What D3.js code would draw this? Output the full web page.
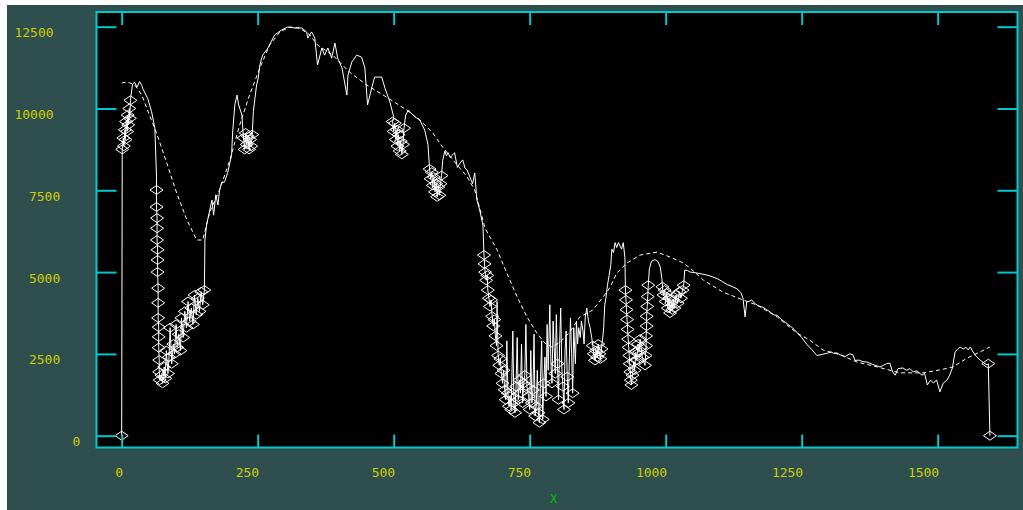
<!DOCTYPE html>
<html><head><meta charset="utf-8">
<script src="https://cdn.jsdelivr.net/npm/d3@7"></script>
<style>html,body{margin:0;padding:0;background:#fff;}svg{display:block;}</style>
</head><body>
<svg id="chart" width="1023" height="510"></svg>
<script>
// ---- data ----
const xTicks = [0, 250, 500, 750, 1000, 1250, 1500];
const yTicks = [0, 2500, 5000, 7500, 10000, 12500];
const xLabel = "X";
// spectrum: [x, flux, rejected(1) / kept(0)]
const spectrum = [
[0,0,1],
[1,8750,1],[3,9100,1],[4,8850,1],[6,9350,1],[7,9050,1],[8,9600,1],[10,9300,1],[11,9800,1],[12,9500,1],[14,10000,1],[15,9700,1],[16,10250,1],
[20,10750,0],[24,10800,0],[28,10650,0],[33,10820,0],[37,10700,0],[39,10600,0],[42,10500,0],[48,10300,0],[55,9900,0],[61,9400,0],[64,7900,0],
[64,7510,1],[64,6990,1],[65,6650,1],[65,6340,1],[65,5980,1],[66,5680,1],[66,5370,1],[66,5000,1],[67,4510,1],[67,4060,1],[67,3600,1],[68,3320,1],[68,3020,1],[68,2690,1],[69,2310,1],[69,1950,1],[70,1700,1],
[73,1850,1],[75,1600,1],[78,2100,1],[80,1750,1],[82,2600,1],[85,1900,1],[87,2400,1],[89,3300,1],[92,2200,1],[95,2800,1],[97,2500,1],[100,3400,1],[102,2700,1],[105,3100,1],[108,2600,1],[110,3600,1],[113,3000,1],[116,3800,1],[119,3300,1],[122,4100,1],[125,3500,1],[128,3900,1],[131,3400,1],[134,4300,1],[137,3700,1],[140,4200,1],[143,3800,1],[146,4400,1],[149,4000,1],[152,4450,1],
[153,5980,0],[156,6440,0],[162,6900,0],[166,7200,0],[169,6740,0],[173,7360,0],[177,7050,0],[180,7510,0],[184,7750,0],[189,7750,0],[195,8050,0],[202,8580,0],[204,9280,0],[208,10110,0],[212,10410,0],[215,10110,0],[221,9800,0],[223,9280,0],
[224,9100,1],[226,8750,1],[228,9250,1],[230,8900,1],[232,9150,1],[234,8750,1],[236,9050,1],[238,8850,1],[240,9200,1],
[242,9900,0],[245,10320,0],[248,10720,0],[251,10930,0],[254,11330,0],[259,11630,0],[269,11850,0],[281,12245,0],[294,12400,0],[305,12490,0],[318,12460,0],[331,12460,0],[340,12340,0],[342,12150,0],[349,12340,0],[355,12150,0],[360,11330,0],[368,11850,0],[373,11630,0],[379,11850,0],[386,11540,0],[392,12000,0],[397,11540,0],[405,11240,0],[414,10410,0],[416,11020,0],[423,11420,0],[432,11630,0],[441,11570,0],[447,11240,0],[452,10110,0],[460,10660,0],[465,10960,0],[478,10960,0],[484,10620,0],[493,10200,0],[500,9750,0],
[498,9600,1],[500,9300,1],[502,9550,1],[504,9050,1],[506,9350,1],[507,8850,1],[509,9200,1],[511,8700,1],[513,9000,1],[515,8600,1],[517,8900,1],[519,9400,1],
[522,9800,0],[527,9950,0],[530,9890,0],[539,9740,0],[548,9650,0],[557,9340,0],[563,8900,0],
[566,8150,1],[568,7850,1],[570,8050,1],[572,7650,1],[574,7900,1],[576,7450,1],[578,7700,1],[580,7300,1],[582,7600,1],[584,7350,1],[586,7700,1],[588,7950,1],
[590,8400,0],[594,8700,0],[597,8550,0],[600,8650,0],[604,8500,0],[607,8560,0],[612,8650,0],[617,8200,0],[622,8330,0],[627,8430,0],[631,8180,0],[635,8120,0],[640,7910,0],[645,7700,0],[649,8030,0],[653,7200,0],[658,6900,0],[664,6440,0],
[666,5520,1],[667,5250,1],[668,5000,1],[670,4750,1],[672,4900,1],[673,4450,1],[675,4200,1],[677,3950,1],[679,4150,1],[681,3650,1],[683,3350,1],[685,3550,1],[687,3050,1],[689,2750,1],[690,4100,0],[692,2450,1],[694,2150,1],[696,2350,1],[698,1900,1],[700,1600,1],[702,2000,1],[704,1400,1],[706,1100,1],[708,2900,0],[710,1300,1],[712,900,1],[714,1200,1],[716,800,1],[719,3200,0],[721,1000,1],[723,700,1],[725,1500,1],[727,3000,0],[729,1100,1],[731,1700,1],[733,1300,1],[735,2800,0],[737,1000,1],[739,1600,1],[741,1850,1],[743,3400,0],[745,1500,1],[748,1200,1],[750,800,1],[752,2600,0],[754,1000,1],[756,1400,1],[758,3100,0],[760,600,1],[762,900,1],[764,2000,0],[766,700,1],[768,400,1],[770,1800,0],[772,2900,0],[774,500,1],[776,1600,1],[778,2400,0],[780,1200,1],[782,3400,0],[784,2000,0],[787,4000,0],[789,2200,0],[791,1600,1],[793,3500,0],[795,2700,0],[797,1900,1],[799,3700,0],[801,2200,1],[803,1100,1],[805,2800,0],[807,3900,0],[809,2100,0],[811,1500,1],[813,800,1],[815,2600,0],[817,3200,0],[819,1800,1],[821,1000,1],[823,2400,0],[825,3600,0],[827,2500,0],[829,1300,1],[831,3300,0],[834,2200,0],[836,3500,0],[838,2800,0],[840,3300,0],[843,3000,0],[845,3500,0],[848,3200,0],[850,2800,0],[852,3600,0],[855,3900,0],[858,3500,0],[861,3300,0],[864,3000,0],
[866,2750,1],[868,2500,1],[870,2300,1],[872,2600,1],[874,2400,1],[876,2800,1],[878,2500,1],[880,2350,1],[882,2650,1],
[884,2950,0],[886,3300,0],[888,4000,0],[890,4200,0],[893,4600,0],[896,4900,0],[899,5200,0],[901,5700,0],[904,5600,0],[907,5900,0],[910,5750,0],[913,5900,0],[916,5800,0],[919,5700,0],[922,5900,0],[925,5450,0],
[926,4450,1],[927,4150,1],[928,3850,1],[929,3550,1],[930,3250,1],[931,2950,1],[932,2700,1],[933,2450,1],[934,2200,1],[935,1950,1],[936,1700,1],[937,1550,1],
[939,1850,1],[941,2250,1],[943,2000,1],[945,2550,1],[947,2300,1],[949,2800,1],[951,2550,1],[953,2950,1],[955,2700,1],[957,2400,1],
[962,2150,1],[963,2450,1],[964,2750,1],[964,3050,1],[965,3350,1],[965,3650,1],[966,3950,1],[967,4250,1],[968,4600,1],
[970,5100,0],[974,5330,0],[980,5380,0],[986,5320,0],[990,5150,0],[993,4800,0],
[994,4550,1],[996,4300,1],[998,4450,1],[1000,4100,1],[1002,4350,1],[1004,3900,1],[1006,4200,1],[1008,3750,1],[1010,4050,1],[1012,3850,1],[1014,4150,1],[1016,3900,1],[1019,4300,1],[1022,4050,1],[1025,4400,1],[1028,4200,1],[1031,4450,1],[1033,4600,1],
[1035,5060,0],[1040,5050,0],[1045,5000,0],[1050,4990,0],[1058,4970,0],[1067,4940,0],[1076,4910,0],[1085,4860,0],[1096,4790,0],[1105,4700,0],[1113,4620,0],[1122,4560,0],[1131,4490,0],[1138,4380,0],[1142,4200,0],[1146,3630,0],[1149,4100,0],[1153,4100,0],[1158,4150,0],[1163,4050,0],[1170,3970,0],[1178,3930,0],[1185,3860,0],[1192,3780,0],[1199,3690,0],[1205,3680,0],[1212,3560,0],[1220,3460,0],[1229,3350,0],[1236,3250,0],[1241,3160,0],[1250,3000,0],[1260,2780,0],[1268,2640,0],[1278,2450,0],[1289,2490,0],[1297,2520,0],[1304,2560,0],[1308,2520,0],[1315,2530,0],[1321,2470,0],[1330,2420,0],[1338,2500,0],[1344,2480,0],[1348,2300,0],[1355,2310,0],[1363,2260,0],[1370,2250,0],[1380,2180,0],[1389,2130,0],
[1394,2100,0],[1400,2150,0],[1406,2200,0],[1412,2220,0],[1417,1950,0],[1422,1850,0],[1427,2050,0],[1436,2070,0],[1443,2000,0],[1449,2050,0],[1455,1950,0],[1462,1980,0],[1471,1850,0],[1476,1900,0],[1481,1550,0],[1487,1700,0],[1492,1610,0],[1498,1700,0],[1504,1340,0],[1510,1600,0],[1517,1700,0],[1522,1850,0],[1527,2070,0],[1532,2560,0],[1537,2650,0],[1541,2710,0],[1547,2650,0],[1552,2700,0],[1556,2620,0],[1560,2710,0],[1565,2560,0],[1571,2420,0],[1578,2310,0],[1585,2220,0],[1591,2160,0],
[1593,2200,1],[1596,0,1]
];
// fitted continuum (dashed)
const continuum = [
[0,10780],[11,10810],[24,10720],[37,10410],[51,9800],[64,9250],[83,8330],[101,7420],[120,6590],[138,5980],[149,5980],[162,6840],[180,7510],[199,8430],[217,9500],[235,10410],[254,11240],[272,11940],[291,12340],[309,12490],[327,12460],[346,12245],[360,11940],[388,11630],[419,11110],[450,10720],[475,10470],[498,10230],[524,9950],[548,9650],[572,9250],[590,8820],[609,8430],[635,7910],[649,7510],[658,6960],[668,6340],[690,5680],[708,4970],[727,4240],[745,3630],[763,3140],[778,2830],[791,2710],[806,2860],[824,3170],[842,3630],[866,3840],[885,4240],[898,4540],[910,4970],[929,5280],[953,5520],[984,5610],[1008,5460],[1032,5280],[1045,5120],[1069,4760],[1105,4390],[1142,4150],[1168,3990],[1205,3630],[1241,3140],[1265,2920],[1289,2620],[1321,2470],[1352,2250],[1389,2100],[1431,1920],[1473,1920],[1504,2010],[1528,2100],[1554,2370],[1578,2560],[1596,2710]
];

// ---- drawing ----
const svg = d3.select("#chart");
const W = 1023, H = 510;
const plot = {left: 96.5, right: 1017.5, top: 12, bottom: 447.5};
const CYAN = "#00c8cc", YELLOW = "#cdcd00", GREEN = "#00c000", BG = "#2f4f4f";

svg.append("rect").attr("x", 7).attr("y", 5).attr("width", W - 7).attr("height", H - 5).attr("fill", BG);
svg.append("rect").attr("x", plot.left).attr("y", plot.top)
  .attr("width", plot.right - plot.left).attr("height", plot.bottom - plot.top).attr("fill", "#000");

const x = d3.scaleLinear().domain([-46.3, 1646.7]).range([plot.left, plot.right]);
const y = d3.scaleLinear().domain([-361, 12949]).range([plot.bottom, plot.top]);

svg.append("clipPath").attr("id", "clip").append("rect")
  .attr("x", plot.left).attr("y", plot.top)
  .attr("width", plot.right - plot.left).attr("height", plot.bottom - plot.top);
const g = svg.append("g").attr("clip-path", "url(#clip)");

const line = d3.line().x(d => x(d[0])).y(d => y(d[1]));

g.append("path").datum(continuum).attr("d", line)
  .attr("fill", "none").attr("stroke", "#fff").attr("stroke-width", 1)
  .attr("stroke-dasharray", "4,3");

g.append("path").datum(spectrum).attr("d", line)
  .attr("fill", "none").attr("stroke", "#fff").attr("stroke-width", 1);

const diamond = "M0,-4.5L6.5,0L0,4.5L-6.5,0Z";
g.selectAll("path.rej").data(spectrum.filter(d => d[2] === 1)).join("path")
  .attr("class", "rej").attr("d", diamond)
  .attr("transform", d => `translate(${x(d[0])},${y(d[1])})`)
  .attr("fill", "none").attr("stroke", "#fff").attr("stroke-width", 1);

// axes (ticks inside on all four sides)
function styleAxis(sel) {
  sel.select(".domain").remove();
  sel.selectAll("text").remove();
  sel.selectAll(".tick line").attr("stroke", CYAN).attr("stroke-width", 2);
}
svg.append("g").attr("transform", `translate(0,${plot.bottom})`)
  .call(d3.axisBottom(x).tickValues(xTicks).tickSizeInner(-13).tickSizeOuter(0)).call(styleAxis);
svg.append("g").attr("transform", `translate(0,${plot.top})`)
  .call(d3.axisTop(x).tickValues(xTicks).tickSizeInner(-13).tickSizeOuter(0)).call(styleAxis);
svg.append("g").attr("transform", `translate(${plot.left},0)`)
  .call(d3.axisLeft(y).tickValues(yTicks).tickSizeInner(-20).tickSizeOuter(0)).call(styleAxis);
svg.append("g").attr("transform", `translate(${plot.right},0)`)
  .call(d3.axisRight(y).tickValues(yTicks).tickSizeInner(-20).tickSizeOuter(0)).call(styleAxis);

svg.append("rect").attr("x", plot.left).attr("y", plot.top)
  .attr("width", plot.right - plot.left).attr("height", plot.bottom - plot.top)
  .attr("fill", "none").attr("stroke", CYAN).attr("stroke-width", 2);

// tick labels
const font = "'DejaVu Sans Mono', monospace";
svg.selectAll("text.xl").data(xTicks).join("text").attr("class", "xl")
  .attr("x", d => x(d) + 1.5).attr("y", 476.5).attr("text-anchor", "end")
  .attr("font-family", font).attr("font-size", 13).attr("fill", YELLOW)
  .text(d => String(d));
svg.selectAll("text.yl").data(yTicks).join("text").attr("class", "yl")
  .attr("x", d => 34 + (5 - String(d).length) * 10.6).attr("y", d => y(d) + 10.5)
  .attr("text-anchor", "middle")
  .attr("font-family", font).attr("font-size", 13).attr("fill", YELLOW)
  .text(d => String(d));
svg.append("text").attr("x", 553.5).attr("y", 503).attr("text-anchor", "middle")
  .attr("font-family", font).attr("font-size", 12).attr("fill", GREEN).text(xLabel);
</script>
</body></html>
